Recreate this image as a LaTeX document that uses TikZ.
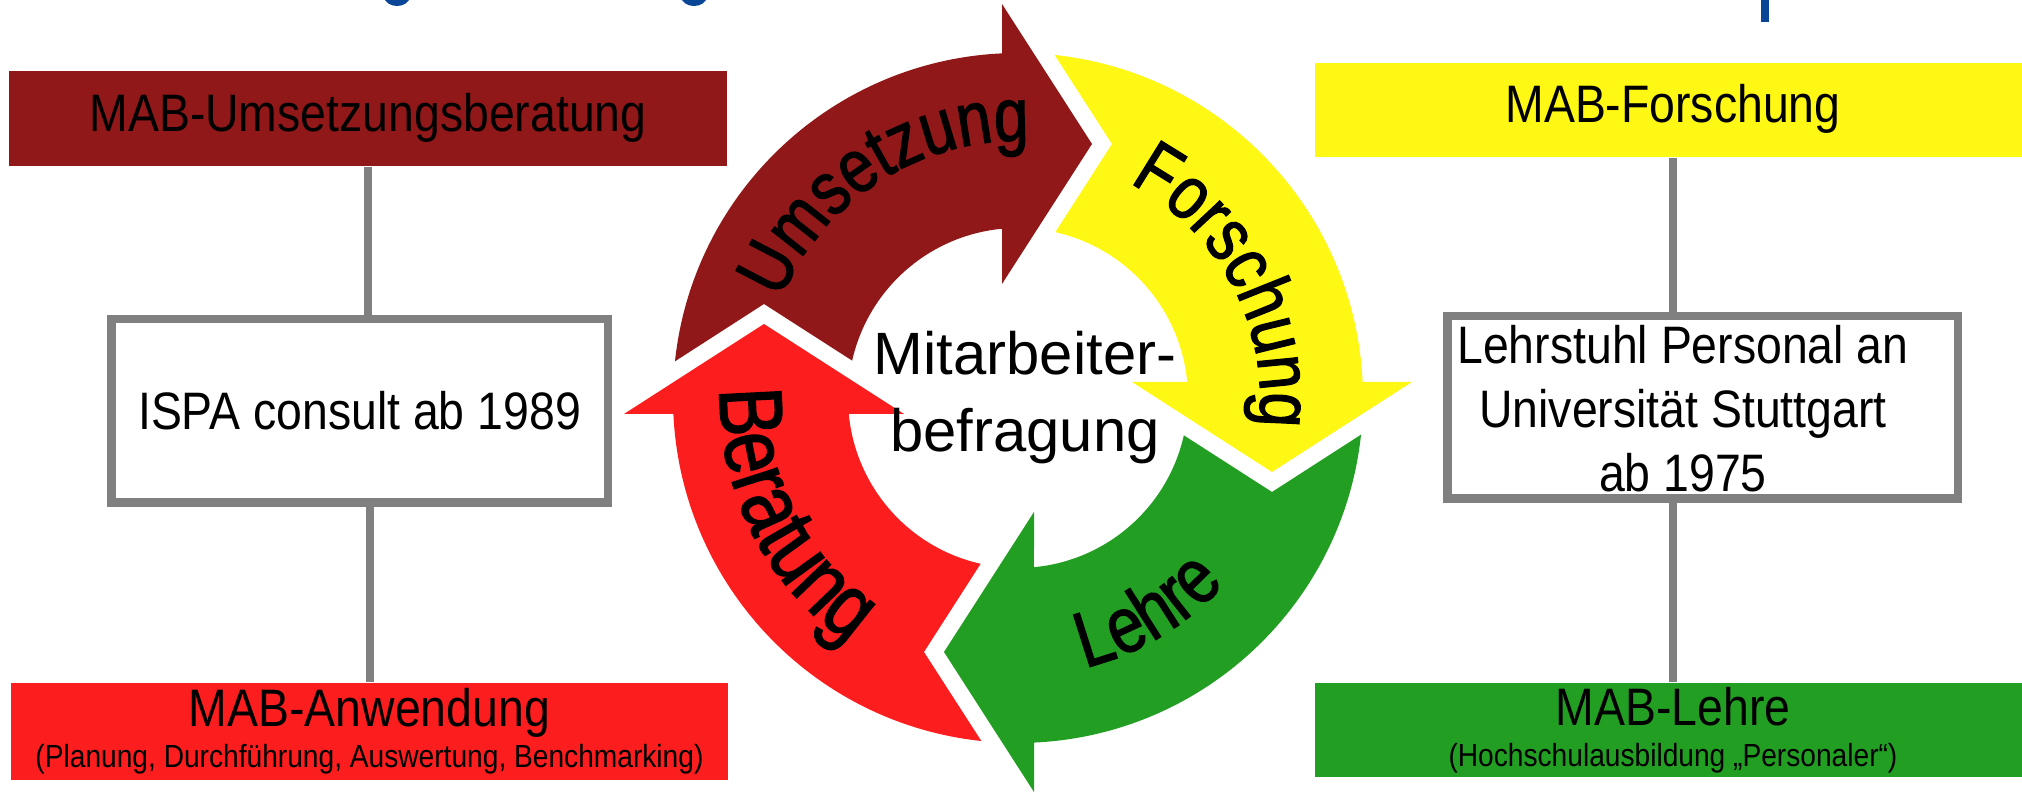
\documentclass[tikz,border=0pt]{standalone}
\usepackage{fontspec}
\setmainfont{Liberation Sans}
\newfontfamily\narrowsf[FakeStretch=0.88]{Liberation Sans}
\newfontfamily\ringsf[FakeStretch=0.82, FakeBold=1.6]{Liberation Sans}
\usepackage{xcolor}
\usetikzlibrary{positioning,decorations.text}
\definecolor{umsred}{RGB}{145,24,24}
\definecolor{berred}{RGB}{252,30,30}
\definecolor{forgelb}{RGB}{255,248,20}
\definecolor{lehrgruen}{RGB}{34,158,34}
\definecolor{linegray}{RGB}{128,128,128}
\definecolor{titleblue}{RGB}{10,70,150}

\begin{document}
\begin{tikzpicture}[
    bandbox/.style={rectangle, minimum height=0.95cm, inner sep=0pt, align=center, font=\narrowsf\fontsize{15}{18}\selectfont},
    orgbox/.style={rectangle, draw=linegray, line width=0.085cm, fill=white, inner sep=0pt},
    orgtext/.style={align=center, inner sep=0pt, font=\narrowsf\fontsize{15}{18.2}\selectfont},
    link/.style={draw=linegray, line width=0.08cm},
    ringtext/.style={decorate, decoration={text along path, text align=center, text={#1}}}
]
\useasboundingbox (0,0) rectangle (20.22,7.95);
\clip (0,0) rectangle (20.22,7.95);

% === TITLE REMNANTS (cut at top edge) ===
\draw[titleblue, line width=0.06cm] (3.87,7.99) arc[start angle=180, end angle=360, x radius=0.10, y radius=0.07];
\draw[titleblue, line width=0.06cm] (6.84,7.99) arc[start angle=180, end angle=360, x radius=0.10, y radius=0.07];
\fill[titleblue] (17.61,7.73) rectangle (17.69,7.95);

% === LEFT COLUMN ===
\node[bandbox, fill=umsred, minimum width=7.18cm, text height=0.92em, text depth=0.2em] (umsbox) at (3.68,6.765) {MAB-Umsetzungsberatung};
\node[orgbox, minimum width=4.965cm, minimum height=1.835cm] (ispabox) at (3.595,3.84) {};
\node[orgtext] (ispatext) at (ispabox.center) {ISPA consult ab 1989};
\node[bandbox, fill=berred, minimum width=7.17cm, minimum height=0.97cm] (anwbox) at (3.695,0.635) {MAB-Anwendung\\[-6.3pt]{\fontsize{9.1}{11}\selectfont (Planung, Durchführung, Auswertung, Benchmarking)}};

% === RIGHT COLUMN ===
\node[bandbox, fill=forgelb, minimum width=7.16cm, minimum height=0.94cm, text height=0.92em, text depth=0.2em] (forbox) at (16.73,6.85) {MAB-Forschung};
\node[orgbox, minimum width=5.105cm, minimum height=1.825cm] (lehrbox) at (17.025,3.875) {};
\node[orgtext] (lehrtext) at (16.83,3.86) {Lehrstuhl Personal an\\Universität Stuttgart\\ab 1975};
\node[bandbox, fill=lehrgruen, minimum width=7.16cm, minimum height=0.94cm] (lehrebox) at (16.73,0.65) {MAB-Lehre\\[-6.3pt]{\fontsize{9.1}{11}\selectfont (Hochschulausbildung „Personaler“)}};

% === CONNECTORS ===
\draw[link] (umsbox.south) -- (umsbox.south |- ispabox.north);
\draw[link] (anwbox.north) -- (anwbox.north |- ispabox.south);
\draw[link] (forbox.south) -- (forbox.south |- lehrbox.north);
\draw[link] (lehrebox.north) -- (lehrebox.north |- lehrbox.south);

% === CYCLE ===
\begin{scope}[shift={(10.18,3.97)}]
\foreach \rot/\col in {0/umsred, -90/forgelb, -180/lehrgruen, -270/berred}
  \fill[\col, rotate=\rot] (173.9:3.45) arc[start angle=173.9, end angle=92.66, radius=3.45]
    -- (-0.16,3.94) -- (0.74,2.54) -- (-0.16,1.14) -- (95.4:1.70)
    arc[start angle=95.4, end angle=167.3, radius=1.70] -- (-2.54,0.94) -- cycle;

% curved labels (outer ones read clockwise, lower ones counter-clockwise)
\path[ringtext={|\ringsf\fontsize{21.5}{24}\selectfont|Umsetzung}] (175:2.57) arc[start angle=175, end angle=70, radius=2.57];
\path[ringtext={|\ringsf\fontsize{21.5}{24}\selectfont|Forschung}] (82:2.42) arc[start angle=82, end angle=-26, radius=2.42];
\path[ringtext={|\ringsf\fontsize{22.5}{26}\selectfont|Lehre}] (-111:2.78) arc[start angle=-111, end angle=-7, radius=2.78];
\path[ringtext={|\ringsf\fontsize{25.5}{28}\selectfont|Beratung}] (155:2.98) arc[start angle=155, end angle=258.8, radius=2.98];

\node[align=center, inner sep=0pt, font=\fontsize{17}{21.9}\selectfont] (mab) at (0.07,0) {Mitarbeiter-\\befragung};
\end{scope}

\end{tikzpicture}
\end{document}
